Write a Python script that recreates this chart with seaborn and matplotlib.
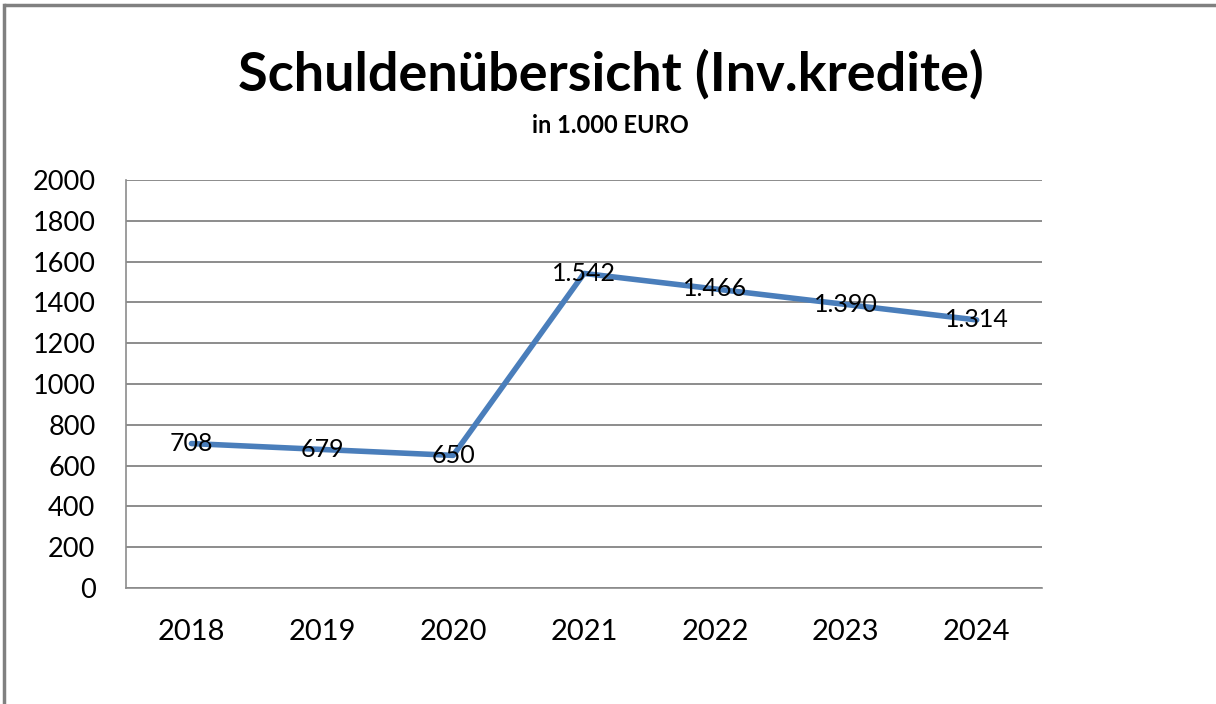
import matplotlib.pyplot as plt
import numpy as np
import pandas as pd
import seaborn as sns
from matplotlib.lines import Line2D

years = ["2018", "2019", "2020", "2021", "2022", "2023", "2024"]
debt = [708, 679, 650, 1542, 1466, 1390, 1314]
y_ticks = [0, 200, 400, 600, 800, 1000, 1200, 1400, 1600, 1800, 2000]

LINE_COLOR = "#4a7ebb"
GRID_COLOR = "#8c8c8c"


def de_format(v: int) -> str:
    return f"{v:,}".replace(",", ".")


def main() -> None:
    sns.set_style("white")
    plt.rcParams["font.family"] = ["Lato", "DejaVu Sans"]
    plt.rcParams["text.color"] = "black"
    plt.rcParams["xtick.labelcolor"] = "black"
    plt.rcParams["ytick.labelcolor"] = "black"

    df = pd.DataFrame({"Jahr": years, "Schulden": debt})

    fig = plt.figure(figsize=(12.16, 7.04), dpi=100)
    ax = fig.add_axes([0.1036, 0.1648, 0.857 - 0.1036, 0.7443 - 0.1648])

    sns.lineplot(data=df, x="Jahr", y="Schulden", ax=ax, color=LINE_COLOR,
                 linewidth=4.0, sort=False)

    for i, v in enumerate(debt):
        ax.text(i, v, de_format(v), ha="center", va="center", fontsize=18,
                color="black", zorder=5)

    ax.set_ylim(0, 2000)
    ax.set_xlim(-0.5, len(years) - 0.5)
    ax.set_yticks(y_ticks)
    ax.set_yticklabels([str(t) for t in y_ticks], fontsize=19.5)
    ax.set_xticks(range(len(years)))
    ax.set_xticklabels(years, fontsize=21)
    ax.set_xticks(np.arange(-0.5, len(years)), minor=True)
    ax.tick_params(axis="x", which="major", length=0, pad=22)
    ax.tick_params(axis="x", which="minor", length=10, width=1.2, color=GRID_COLOR)
    ax.tick_params(axis="y", length=10, width=1.2, color=GRID_COLOR, pad=12)

    ax.grid(axis="y", color=GRID_COLOR, linewidth=1.4)
    ax.set_axisbelow(True)
    for side in ["top", "right"]:
        ax.spines[side].set_visible(False)
    for side in ["left", "bottom"]:
        ax.spines[side].set_color(GRID_COLOR)
        ax.spines[side].set_linewidth(1.2)
    ax.set_xlabel("")
    ax.set_ylabel("")

    fig.text(0.502, 0.895, "Schuldenübersicht (Inv.kredite)", ha="center",
             va="center", fontsize=39, fontweight="bold", color="black")
    fig.text(0.502, 0.822, "in 1.000 EURO", ha="center", va="center",
             fontsize=17, fontweight="bold", color="black")

    # frame of the chart area (top and left edges)
    fig.add_artist(Line2D([0.0035, 1.02], [0.993, 0.993], color="#808080",
                          linewidth=2.5, solid_capstyle="butt",
                          transform=fig.transFigure))
    fig.add_artist(Line2D([0.0035, 0.0035], [-0.02, 0.993], color="#808080",
                          linewidth=2.5, solid_capstyle="projecting",
                          transform=fig.transFigure))

    fig.savefig("out.png", dpi=100)


main()
